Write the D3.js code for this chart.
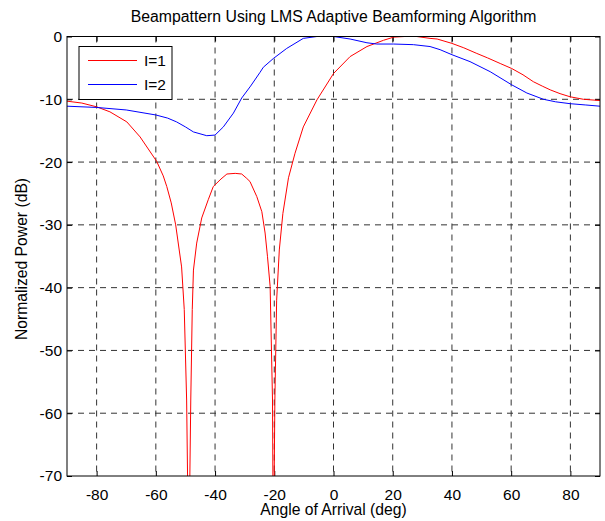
<!DOCTYPE html>
<html>
<head>
<meta charset="utf-8">
<script src="https://cdn.jsdelivr.net/npm/d3@7"></script>
<style>
  body { margin: 0; background: #fff; }
  text { font-family: Arial, "Liberation Sans", sans-serif; fill: #000; }
</style>
</head>
<body>
<svg width="605" height="521"></svg>
<script>
// I=1 curve (angle in deg, normalized power in dB)
const angles1 = [-90, -85, -80, -75.5, -69.8, -65.3, -59.7, -57.5, -56.3, -54.8, -53.3, -51.3, -50.4, -49.6, -48.9, -48.2, -47.7, -47.3, -46.2, -44.5, -42.3, -40.6, -38, -36, -33.2, -31, -29.3, -28.2, -25.9, -24.2, -23.1, -22.3, -21.4, -20.6, -20.3, -19.8, -19.2, -18.3, -17.1, -15.2, -13, -10.2, -5.6, 0, 5.6, 11.3, 16.9, 20.3, 24, 28.1, 32.6, 35, 40, 44, 48.4, 52, 56.3, 60.2, 64, 67.5, 70.5, 73.2, 76.5, 79.9, 84.4, 90]
const power1 = [-10.3, -10.6, -11.2, -12.0, -13.6, -16.0, -19.9, -22.2, -23.9, -26.5, -30.0, -36.7, -43.5, -57.9, -85, -57.9, -43.5, -37.2, -32.9, -28.9, -26.0, -23.9, -22.7, -21.9, -21.8, -21.9, -22.6, -23.1, -25.5, -27.9, -31.3, -35.0, -39.8, -57.9, -85, -57.9, -42.0, -34.0, -28.2, -22.5, -18.6, -14.4, -10.1, -5.9, -3.2, -1.6, -0.6, -0.1, 0, 0, -0.3, -0.4, -1.1, -1.8, -2.7, -3.4, -4.3, -5.1, -6.1, -7.2, -7.9, -8.5, -9.1, -9.6, -10.0, -10.2]

// I=2 curve
const angles2 = [-90, -80, -70, -60, -56, -53, -50, -47.3, -42.8, -40, -37.2, -33.8, -31, -28, -24.8, -23.7, -20.3, -15.8, -10.2, -5.6, 0, 5.6, 11.3, 14.6, 20.3, 27, 32.6, 36, 40, 46.1, 52.9, 60.2, 65.3, 70.9, 75, 79.9, 85, 90]
const power2 = [-11.1, -11.3, -11.7, -12.5, -13.0, -13.6, -14.4, -15.2, -15.8, -15.7, -14.4, -12.2, -9.8, -7.9, -5.7, -4.9, -3.5, -1.9, -0.3, 0, 0, -0.4, -1.0, -1.2, -1.2, -1.3, -1.6, -2.1, -2.9, -4.0, -5.6, -7.7, -9.0, -10.0, -10.4, -10.7, -10.9, -11.1]

const seriesNames = ['I=1', 'I=2']
const seriesColors = ['#ff0000', '#0000ff']
const xTicks = [-80, -60, -40, -20, 0, 20, 40, 60, 80]
const yTicks = [0, -10, -20, -30, -40, -50, -60, -70]

const svg = d3.select('svg')
const margin = { left: 67, right: 5, top: 36.5, bottom: 45 }
const width = +svg.attr('width')
const height = +svg.attr('height')
const innerWidth = width - margin.left - margin.right
const innerHeight = height - margin.top - margin.bottom

const g = svg.append('g')
    .attr('transform', `translate(${margin.left},${margin.top})`)

const xScale = d3.scaleLinear().domain([-90, 90]).range([0, innerWidth])
const yScale = d3.scaleLinear().domain([-70, 0]).range([innerHeight, 0])

// grid
g.append('g')
    .selectAll('line')
    .data(xTicks)
    .join('line')
    .attr('x1', d => xScale(d)).attr('x2', d => xScale(d))
    .attr('y1', 0).attr('y2', innerHeight)
    .attr('stroke', '#333').attr('stroke-dasharray', '6,5')

g.append('g')
    .selectAll('line')
    .data(yTicks.filter(d => d !== 0 && d !== -70))
    .join('line')
    .attr('y1', d => yScale(d)).attr('y2', d => yScale(d))
    .attr('x1', 0).attr('x2', innerWidth)
    .attr('stroke', '#333').attr('stroke-dasharray', '6,5')

// axes (plain hyphen minus like the original)
const fmt = d => String(d)
g.append('g')
    .attr('transform', `translate(0,${innerHeight})`)
    .call(d3.axisBottom(xScale).tickValues(xTicks).tickFormat(fmt).tickSizeInner(-5).tickSizeOuter(0).tickPadding(12.5))
g.append('g')
    .call(d3.axisLeft(yScale).tickValues(yTicks).tickFormat(fmt).tickSizeInner(-5).tickSizeOuter(0).tickPadding(5))
g.append('g')
    .call(d3.axisTop(xScale).tickValues(xTicks).tickSizeInner(-5).tickSizeOuter(0))
    .selectAll('text').remove()
g.append('g')
    .attr('transform', `translate(${innerWidth},0)`)
    .call(d3.axisRight(yScale).tickValues(yTicks).tickSizeInner(-5).tickSizeOuter(0))
    .selectAll('text').remove()

g.selectAll('.domain').remove()
g.selectAll('.tick line').attr('stroke', '#000')
g.selectAll('.tick text')
    .style('font-size', '15.5px')
    .style('font-family', 'Arial, "Liberation Sans", sans-serif')

// clipped lines
svg.append('clipPath').attr('id', 'clip')
    .append('rect').attr('width', innerWidth).attr('height', innerHeight)

const line = d3.line()
    .x(d => xScale(d[0]))
    .y(d => yScale(d[1]))

const series = [
    d3.zip(angles1, power1),
    d3.zip(angles2, power2)
]

g.append('g').attr('clip-path', 'url(#clip)')
    .selectAll('path')
    .data(series)
    .join('path')
    .attr('d', line)
    .attr('fill', 'none')
    .attr('stroke', (d, i) => seriesColors[i])
    .attr('stroke-width', 1)

// frame
g.append('rect')
    .attr('width', innerWidth).attr('height', innerHeight)
    .attr('fill', 'none').attr('stroke', '#000').attr('stroke-width', 1)

// legend
const legend = g.append('g').attr('transform', 'translate(12,10)')
legend.append('rect')
    .attr('width', 93).attr('height', 53)
    .attr('fill', '#fff').attr('stroke', '#000')
seriesNames.forEach((name, i) => {
    const y = 14 + i * 24
    legend.append('line')
        .attr('x1', 9).attr('x2', 58).attr('y1', y).attr('y2', y)
        .attr('stroke', seriesColors[i])
    legend.append('text')
        .attr('x', 65).attr('y', y + 5.5)
        .style('font-size', '15.5px')
        .text(name)
})

// labels
svg.append('text')
    .attr('x', margin.left + innerWidth / 2).attr('y', 22)
    .attr('text-anchor', 'middle')
    .style('font-size', '15.8px')
    .text('Beampattern Using LMS Adaptive Beamforming Algorithm')

svg.append('text')
    .attr('x', margin.left + innerWidth / 2).attr('y', 515)
    .attr('text-anchor', 'middle')
    .style('font-size', '15.7px')
    .text('Angle of Arrival (deg)')

svg.append('text')
    .attr('transform', `translate(26.5,259) rotate(-90)`)
    .attr('text-anchor', 'middle')
    .style('font-size', '15.7px')
    .text('Normalized Power (dB)')
</script>
</body>
</html>
